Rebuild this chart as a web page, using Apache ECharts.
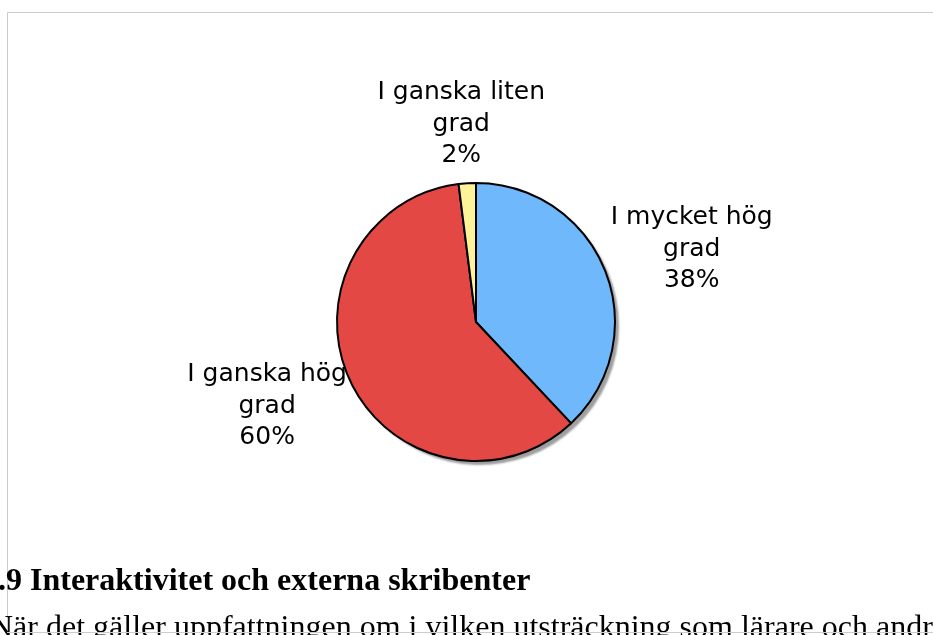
<!DOCTYPE html>
<html>
<head>
<meta charset="utf-8">
<script src="https://cdn.jsdelivr.net/npm/echarts@6/dist/echarts.min.js"></script>
<style>
html,body{margin:0;padding:0;background:#fff;}
#c{width:933px;height:635px;}
</style>
</head>
<body>
<div id="c"></div>
<script>
const categories = ['I mycket hög grad', 'I ganska hög grad', 'I ganska liten grad'];
const values = [38, 60, 2];
const colors = ['#6fb8fb', '#e34845', '#fff39a'];
const heading = '.9 Interaktivitet och externa skribenter';
const bodyText = 'När det gäller uppfattningen om i vilken utsträckning som lärare och andra';

const CX = 476, CY = 322, R = 139, GAP = 12;
const total = values.reduce((a, b) => a + b, 0);
const mids = [];
let acc = 0;
values.forEach(v => { mids.push((acc + v / 2) / total * 2 * Math.PI); acc += v; });

const chart = echarts.init(document.getElementById('c'), null, {renderer: 'canvas'});
chart.setOption({
  backgroundColor: '#fff',
  animation: false,
  graphic: [
    {type: 'polyline', silent: true, shape: {points: [[7.5, 640], [7.5, 12.5], [940, 12.5]]}, style: {stroke: '#cccccc', lineWidth: 1, fill: null}},
    {type: 'text', silent: true, left: -2, top: 566, style: {text: heading, font: 'bold 32px "Liberation Serif", "DejaVu Serif", serif', fill: '#000'}},
    {type: 'text', silent: true, left: -10, top: 613, style: {text: bodyText, font: '32px "Liberation Serif", "DejaVu Serif", serif', fill: '#000'}},
    {type: 'line', silent: true, shape: {x1: 7, y1: 632.5, x2: 940, y2: 632.5}, style: {stroke: '#cccccc', lineWidth: 1}}
  ],
  series: [{
    // shadow layer beneath the pie
    type: 'pie',
    z: 1,
    silent: true,
    center: [CX, CY],
    radius: R,
    startAngle: 90,
    data: categories.map((n, i) => ({name: n, value: values[i]})),
    itemStyle: {
      color: '#999', borderWidth: 0,
      shadowColor: 'rgba(0,0,0,0.38)', shadowBlur: 2, shadowOffsetX: 4, shadowOffsetY: 4
    },
    label: {show: false},
    labelLine: {show: false},
    emphasis: {disabled: true},
    tooltip: {show: false}
  }, {
    type: 'pie',
    z: 2,
    center: [CX, CY],
    radius: R,
    startAngle: 90,
    clockwise: true,
    avoidLabelOverlap: false,
    data: categories.map((n, i) => ({name: n, value: values[i], itemStyle: {color: colors[i]}})),
    itemStyle: {borderColor: '#000', borderWidth: 2},
    emphasis: {disabled: true},
    label: {
      show: true,
      position: 'outside',
      formatter: p => p.name.replace(/ (\S+)$/, '\n$1') + '\n' + p.percent + '%',
      fontFamily: '"DejaVu Sans", Verdana, sans-serif',
      fontSize: 25,
      lineHeight: 31.5,
      color: '#000',
      align: 'center'
    },
    labelLine: {show: false},
    labelLayout: function (params) {
      const i = params.dataIndex;
      const a = mids[i];
      const dx = Math.sin(a), dy = -Math.cos(a);
      const ax = CX + (R + GAP) * dx, ay = CY + (R + GAP) * dy;
      const w = params.labelRect.width, h = params.labelRect.height;
      return {x: ax + dx * w / 2, y: ay + dy * h / 2, align: 'center', verticalAlign: 'middle'};
    }
  }]
});
</script>
</body>
</html>
